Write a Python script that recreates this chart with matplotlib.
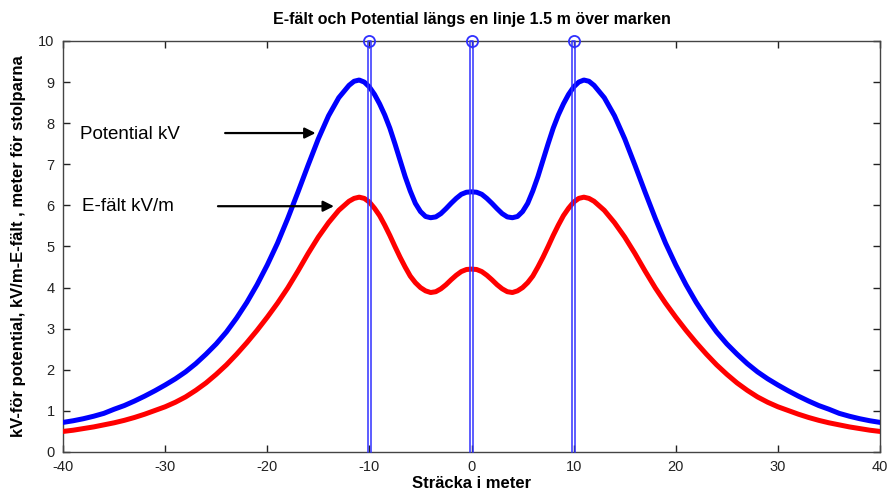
import matplotlib
matplotlib.use("Agg")
import matplotlib.pyplot as plt

plt.rcParams['font.family'] = ['Liberation Sans', 'DejaVu Sans']
plt.rcParams['axes.unicode_minus'] = False

# distance along the line (m)
x = [-40, -39, -38, -37, -36, -35, -34, -33, -32, -31, -30, -29, -28, -27, -26, -25,
     -24, -23, -22, -21, -20, -19, -18, -17, -16, -15, -14, -13, -12,
     -11.5, -11, -10.5, -10, -9.5, -9, -8.5, -8, -7.5, -7, -6.5, -6, -5.5, -5,
     -4.5, -4, -3.5, -3, -2.5, -2, -1.5, -1, -0.5, 0,
     0.5, 1, 1.5, 2, 2.5, 3, 3.5, 4, 4.5, 5, 5.5, 6, 6.5, 7, 7.5, 8, 8.5, 9,
     9.5, 10, 10.5, 11, 11.5,
     12, 13, 14, 15, 16, 17, 18, 19, 20, 21, 22, 23, 24, 25, 26, 27, 28, 29,
     30, 31, 32, 33, 34, 35, 36, 37, 38, 39, 40]

# potential (kV)
potential = [0.72, 0.76, 0.81, 0.87, 0.94, 1.04, 1.13, 1.24, 1.36, 1.49, 1.63, 1.78, 1.95, 2.15, 2.38, 2.63,
             2.92, 3.26, 3.64, 4.07, 4.55, 5.08, 5.68, 6.32, 6.98, 7.62, 8.18, 8.62, 8.92,
             9.02, 9.05, 9.0, 8.88, 8.7, 8.47, 8.2, 7.88, 7.5, 7.1, 6.7, 6.35, 6.05, 5.85,
             5.73, 5.7, 5.72, 5.8, 5.92, 6.05, 6.17, 6.27, 6.32, 6.33,
             6.32, 6.27, 6.17, 6.05, 5.92, 5.8, 5.72, 5.7, 5.73, 5.85, 6.05, 6.35, 6.7, 7.1, 7.5, 7.88, 8.2, 8.47,
             8.7, 8.88, 9.0, 9.05, 9.02,
             8.92, 8.62, 8.18, 7.62, 6.98, 6.32, 5.68, 5.08, 4.55, 4.07, 3.64, 3.26, 2.92, 2.63, 2.38, 2.15, 1.95, 1.78,
             1.63, 1.49, 1.36, 1.24, 1.13, 1.04, 0.94, 0.87, 0.81, 0.76, 0.72]

# electric field (kV/m)
efield = [0.5, 0.53, 0.57, 0.61, 0.66, 0.71, 0.77, 0.84, 0.92, 1.01, 1.1, 1.21, 1.34, 1.5, 1.68, 1.89,
          2.12, 2.38, 2.66, 2.96, 3.28, 3.62, 3.99, 4.4, 4.83, 5.23, 5.58, 5.88, 6.1,
          6.17, 6.2, 6.17, 6.08, 5.93, 5.75, 5.52, 5.27, 5.0, 4.74, 4.5, 4.28, 4.12, 4.0,
          3.92, 3.88, 3.9, 3.97, 4.07, 4.19, 4.3, 4.39, 4.44, 4.45,
          4.44, 4.39, 4.3, 4.19, 4.07, 3.97, 3.9, 3.88, 3.92, 4.0, 4.12, 4.28, 4.5, 4.74, 5.0, 5.27, 5.52, 5.75,
          5.93, 6.08, 6.17, 6.2, 6.17,
          6.1, 5.88, 5.58, 5.23, 4.83, 4.4, 3.99, 3.62, 3.28, 2.96, 2.66, 2.38, 2.12, 1.89, 1.68, 1.5, 1.34, 1.21,
          1.1, 1.01, 0.92, 0.84, 0.77, 0.71, 0.66, 0.61, 0.57, 0.53, 0.5]

# poles
pole_x = [-10, 0, 10]
pole_h = 10

xticks = [-40, -30, -20, -10, 0, 10, 20, 30, 40]
yticks = list(range(0, 11))

fig = plt.figure(figsize=(8.89, 4.98), dpi=100)
ax = fig.add_axes([0.0709, 0.0924, 0.919, 0.8253])

ax.plot(x, potential, color='#0000ff', lw=3.6, solid_capstyle='round',
        solid_joinstyle='round', zorder=3)
ax.plot(x, efield, color='#ff0000', lw=3.6, solid_capstyle='round',
        solid_joinstyle='round', zorder=3)

hw = 0.13
for p in pole_x:
    ax.plot([p - hw, p - hw, p + hw, p + hw], [0, pole_h, pole_h, 0],
            color='#3030ff', lw=1.1, zorder=4, clip_on=False)
    ax.plot([p], [pole_h], marker='o', markersize=8, fillstyle='none',
            markeredgecolor='#3030ff', markeredgewidth=1.3, zorder=5, clip_on=False)

ax.set_xlim(-40, 40)
ax.set_ylim(0, 10)
ax.set_xticks(xticks)
ax.set_yticks(yticks)
ax.tick_params(direction='in', length=5, width=1, top=True, right=True,
               labelsize=10.5, colors='#222222')
ax.tick_params(axis='x', pad=6)
ax.tick_params(axis='y', pad=6)
for s in ax.spines.values():
    s.set_color('#444444')
    s.set_linewidth(1)

ax.set_title('E-fält och Potential längs en linje 1.5 m över marken',
             fontsize=11.5, fontweight='bold', pad=12)
ax.set_xlabel('Sträcka i meter', fontsize=12, fontweight='bold', labelpad=1)
ax.set_ylabel('kV-för potential, kV/m-E-fält , meter för stolparna',
              fontsize=12, fontweight='bold', labelpad=9)

ax.text(-38.3, 7.72, 'Potential kV', fontsize=13.5, va='center', ha='left')
ax.annotate('', xy=(-15.0, 7.76), xytext=(-24.4, 7.76),
            arrowprops=dict(arrowstyle='-|>', color='k', lw=1.6, mutation_scale=16))
ax.text(-38.1, 5.98, 'E-fält kV/m', fontsize=13.5, va='center', ha='left')
ax.annotate('', xy=(-13.2, 5.98), xytext=(-25.1, 5.98),
            arrowprops=dict(arrowstyle='-|>', color='k', lw=1.6, mutation_scale=16))

fig.savefig('out.png', dpi=100)
